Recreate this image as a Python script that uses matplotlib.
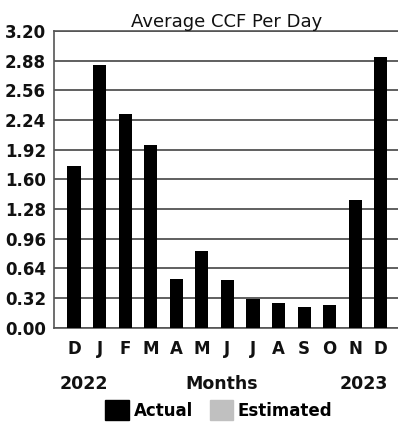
import numpy as np
import matplotlib
matplotlib.use("Agg")
import matplotlib.pyplot as plt
import matplotlib.patches as patches

months = ["D", "J", "F", "M", "A", "M", "J", "J", "A", "S", "O", "N", "D"]
actual = [1.74, 2.83, 2.31, 1.97, 0.52, 0.83, 0.51, 0.31, 0.27, 0.22, 0.25, 1.38, 2.92]
estimated = [0.0] * 13
yticks = [0.00, 0.32, 0.64, 0.96, 1.28, 1.60, 1.92, 2.24, 2.56, 2.88, 3.20]
start_year = "2022"
end_year = "2023"

plt.rcParams["font.family"] = ["DejaVu Sans"]

fig = plt.figure(figsize=(3.98, 4.24), dpi=100)
ax = fig.add_axes([0.1364, 0.2271, 0.8636, 0.6998])

x = np.arange(len(months))
ax.bar(x, actual, width=0.51, color="black", zorder=3)
ax.bar(x, estimated, bottom=actual, width=0.51, color="#c0c0c0", linewidth=0, zorder=3)

ax.set_xlim(-0.77, 12.67)
ax.set_ylim(0, 3.2)
ax.set_yticks(yticks)
ax.set_yticklabels([f"{v:.2f}" for v in yticks], fontsize=12, fontweight="bold", color="#111")
ax.set_xticks(x)
ax.set_xticklabels(months, fontsize=12, fontweight="bold", color="#111")
ax.tick_params(axis="both", length=0)
ax.tick_params(axis="x", pad=9)
ax.tick_params(axis="y", pad=6)

ax.yaxis.grid(True, color="#444", linewidth=1.2, zorder=0)
ax.spines["right"].set_visible(False)
for s in ["left", "bottom", "top"]:
    ax.spines[s].set_color("#555")
    ax.spines[s].set_linewidth(1.2)

ax.set_title("Average CCF Per Day", fontsize=13, pad=2, color="#111")

fig.text(60 / 398, 1 - 384 / 424, start_year, ha="left", va="center",
         fontsize=12.5, fontweight="bold", color="#111")
fig.text(222 / 398, 1 - 384 / 424, "Months", ha="center", va="center",
         fontsize=12.5, fontweight="bold", color="#111")
fig.text(388 / 398, 1 - 384 / 424, end_year, ha="right", va="center",
         fontsize=12.5, fontweight="bold", color="#111")

handles = [patches.Patch(color="black", label="Actual"),
           patches.Patch(color="#c0c0c0", label="Estimated")]
leg = fig.legend(handles=handles, loc="center", bbox_to_anchor=(219 / 398, 1 - 410 / 424),
                 ncol=2, frameon=False, handlelength=1.4, handleheight=1.4,
                 handletextpad=0.3, columnspacing=1.0,
                 prop={"size": 12, "weight": "bold"})

fig.savefig("out.png", dpi=100, facecolor="white")
